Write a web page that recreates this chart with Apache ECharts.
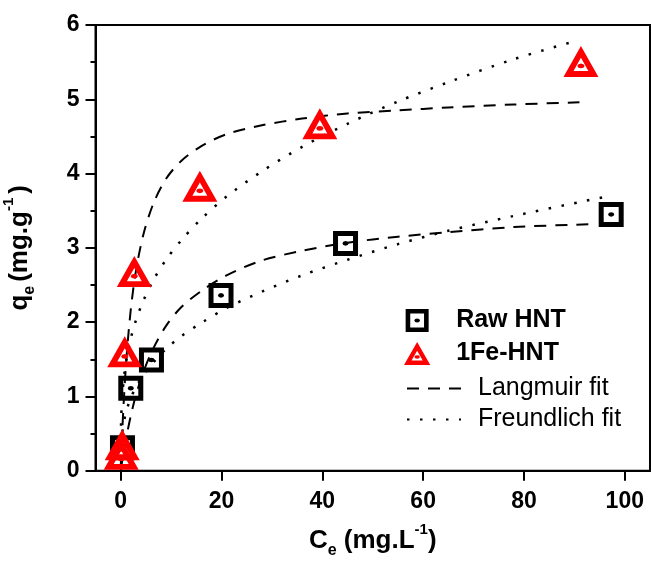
<!DOCTYPE html>
<html>
<head>
    <meta charset="utf-8">
    <title>ECharts</title>
    <script src="https://cdn.jsdelivr.net/npm/echarts@6/dist/echarts.min.js"></script>
</head>
<body style="margin:0;background:#fff;">
<div id="main" style="width: 651px;height:564px;"></div>
<script type="text/javascript">
    // measured points
    var rawC = [0.35, 2.0, 6.1, 19.9, 44.6, 97.3];
    var rawQ = [0.31, 1.11, 1.49, 2.36, 3.06, 3.45];
    var feC = [0.1, 0.3, 0.8, 2.7, 15.7, 39.5, 91.3];
    var feQ = [0.22, 0.35, 1.6, 2.68, 3.83, 4.67, 5.51];

    // fit curves
    var rawLangC = [0, 0.5, 1, 2, 3, 4.5, 6.5, 9, 12, 16, 21, 28, 36, 45, 55, 65, 78, 94];
    var rawLangQ = [0, 0.22, 0.41, 0.74, 1.01, 1.33, 1.65, 1.95, 2.2, 2.42, 2.63, 2.83, 2.96, 3.07, 3.15, 3.21, 3.28, 3.32];
    var rawFreuC = [0.1, 0.3, 0.7, 1.2, 2, 3, 4.5, 6.5, 9, 12, 16, 21, 28, 36, 45, 55, 65, 78, 97];
    var rawFreuQ = [0.35, 0.51, 0.68, 0.82, 0.98, 1.12, 1.29, 1.46, 1.64, 1.81, 1.99, 2.19, 2.41, 2.63, 2.84, 3.05, 3.23, 3.43, 3.7];
    var feLangC = [0, 0.3, 0.7, 1.2, 2, 3, 4.5, 6.5, 9, 12, 16, 21, 28, 36, 45, 55, 65, 78, 91];
    var feLangQ = [0.05, 0.52, 1.05, 1.57, 2.17, 2.68, 3.18, 3.6, 3.93, 4.17, 4.37, 4.53, 4.65, 4.74, 4.81, 4.85, 4.89, 4.93, 4.96];
    var feFreuC = [0.02, 0.1, 0.3, 0.7, 1.2, 2, 3, 4.5, 6.5, 9, 12, 16, 21, 28, 36, 45, 55, 65, 78, 90];
    var feFreuQ = [0.43, 0.71, 0.99, 1.29, 1.52, 1.78, 2.02, 2.29, 2.57, 2.84, 3.1, 3.39, 3.69, 4.03, 4.36, 4.67, 4.97, 5.23, 5.54, 5.78];

    var xTicks = [0, 20, 40, 60, 80, 100];

    function pairs(xs, ys) {
        return xs.map(function (x, i) { return [x, ys[i]]; });
    }

    // hollow square / triangle with a dot in the middle
    var SQ = 'path://M0,0H24V24H0Z M4.8,4.8V19.2H19.2V4.8Z M9,12L9.9,10.4L12,9.8L14.1,10.4L15,12L14.1,13.6L12,14.2L9.9,13.6Z';
    var TRI = 'path://M12,0L24,21L0,21Z M12,8L6.9,17L17.1,17Z M9.5,13.6L10.3,12.4L12,12L13.7,12.4L14.5,13.6L13.7,14.8L12,15.2L10.3,14.8Z';

    var FONT = 'Liberation Sans, Arial, sans-serif';
    var NOSYM = { color: 'rgba(0,0,0,0)', borderWidth: 0 };
    var DASH = [12, 9];
    var DOT = [2.5, 10.5];

    var chartDom = document.getElementById('main');
    var myChart = echarts.init(chartDom);

    var option = {
        animation: false,
        backgroundColor: '#fff',
        grid: {
            left: 95.5,
            right: 1,
            top: 25,
            bottom: 93.3,
            containLabel: false,
            outerBoundsMode: 'none',
            show: true,
            borderColor: '#000',
            borderWidth: 2
        },
        legend: [{
            orient: 'vertical',
            left: 404,
            top: 308,
            padding: 0,
            itemWidth: 68,
            itemHeight: 23,
            itemGap: 8,
            textStyle: { fontFamily: FONT, fontSize: 25, fontWeight: 'bold', color: '#000', lineHeight: 24 },
            data: [
                { name: 'Raw HNT', icon: SQ },
                { name: '1Fe-HNT', icon: TRI }
            ]
        }, {
            orient: 'vertical',
            left: 406,
            top: 376,
            padding: 0,
            itemWidth: 54,
            itemHeight: 14,
            itemGap: 6,
            textStyle: { fontFamily: FONT, fontSize: 25, color: '#000', lineHeight: 24, padding: [0, 0, 0, 12] },
            data: [
                { name: 'Langmuir fit', itemStyle: NOSYM },
                { name: 'Freundlich fit', itemStyle: NOSYM }
            ]
        }],
        xAxis: {
            type: 'value',
            min: -5,
            max: 105,
            name: '{b|C}{sub|e}{b| (mg.L}{sup|-1}{b|)}',
            nameLocation: 'middle',
            nameGap: 52,
            nameTextStyle: {
                rich: {
                    b: { fontFamily: FONT, fontSize: 26, fontWeight: 'bold', color: '#000', lineHeight: 36 },
                    sub: { fontFamily: FONT, fontSize: 16, fontWeight: 'bold', color: '#000', lineHeight: 10, verticalAlign: 'bottom' },
                    sup: { fontFamily: FONT, fontSize: 15, fontWeight: 'bold', color: '#000', lineHeight: 20, verticalAlign: 'top' }
                }
            },
            splitLine: { show: false },
            axisLine: { onZero: false, lineStyle: { color: '#000', width: 2 } },
            axisTick: { customValues: xTicks, length: 10, lineStyle: { color: '#000', width: 2 } },
            axisLabel: {
                customValues: xTicks,
                margin: 19,
                fontFamily: FONT,
                fontSize: 23,
                fontWeight: 'bold',
                color: '#000'
            }
        },
        yAxis: {
            type: 'value',
            min: 0,
            max: 6,
            interval: 1,
            name: '{b|q}{sub|e}{b|(mg.g}{sup|-1}{b|)}',
            nameLocation: 'middle',
            nameRotate: 90,
            nameGap: 58,
            nameTextStyle: {
                rich: {
                    b: { fontFamily: FONT, fontSize: 26, fontWeight: 'bold', color: '#000', lineHeight: 36 },
                    sub: { fontFamily: FONT, fontSize: 16, fontWeight: 'bold', color: '#000', lineHeight: 10, verticalAlign: 'bottom', padding: [0, 4, 0, 0] },
                    sup: { fontFamily: FONT, fontSize: 15, fontWeight: 'bold', color: '#000', lineHeight: 20, verticalAlign: 'top', padding: [0, 4, 0, 0] }
                }
            },
            splitLine: { show: false },
            axisLine: { onZero: false, lineStyle: { color: '#000', width: 2 } },
            axisTick: { length: 10, lineStyle: { color: '#000', width: 2 } },
            minorTick: { show: true, splitNumber: 2, length: 5, lineStyle: { color: '#000', width: 2 } },
            axisLabel: {
                margin: 16,
                fontFamily: FONT,
                fontSize: 23,
                fontWeight: 'bold',
                color: '#000'
            }
        },
        series: [
            {
                name: 'Langmuir fit',
                type: 'line',
                smooth: 0.3,
                symbol: 'none',
                data: pairs(rawLangC, rawLangQ),
                lineStyle: { color: '#000', width: 2, type: DASH },
                itemStyle: NOSYM
            },
            {
                name: 'Langmuir fit',
                type: 'line',
                smooth: 0.3,
                symbol: 'none',
                data: pairs(feLangC, feLangQ),
                lineStyle: { color: '#000', width: 2, type: DASH },
                itemStyle: NOSYM
            },
            {
                name: 'Freundlich fit',
                type: 'line',
                smooth: 0.3,
                symbol: 'none',
                data: pairs(rawFreuC, rawFreuQ),
                lineStyle: { color: '#000', width: 2.5, type: DOT },
                itemStyle: NOSYM
            },
            {
                name: 'Freundlich fit',
                type: 'line',
                smooth: 0.3,
                symbol: 'none',
                data: pairs(feFreuC, feFreuQ),
                lineStyle: { color: '#000', width: 2.5, type: DOT },
                itemStyle: NOSYM
            },
            {
                name: 'Raw HNT',
                type: 'scatter',
                symbol: SQ,
                symbolSize: [25, 25],
                data: pairs(rawC, rawQ),
                itemStyle: { color: '#000', opacity: 1 },
                z: 5
            },
            {
                name: '1Fe-HNT',
                type: 'scatter',
                symbol: TRI,
                symbolSize: [35, 31],
                data: pairs(feC, feQ),
                itemStyle: { color: '#ff0000', opacity: 1 },
                z: 6
            }
        ]
    };
    if (option && typeof option === 'object') {
        myChart.setOption(option);
    }
</script>
</body>
</html>
